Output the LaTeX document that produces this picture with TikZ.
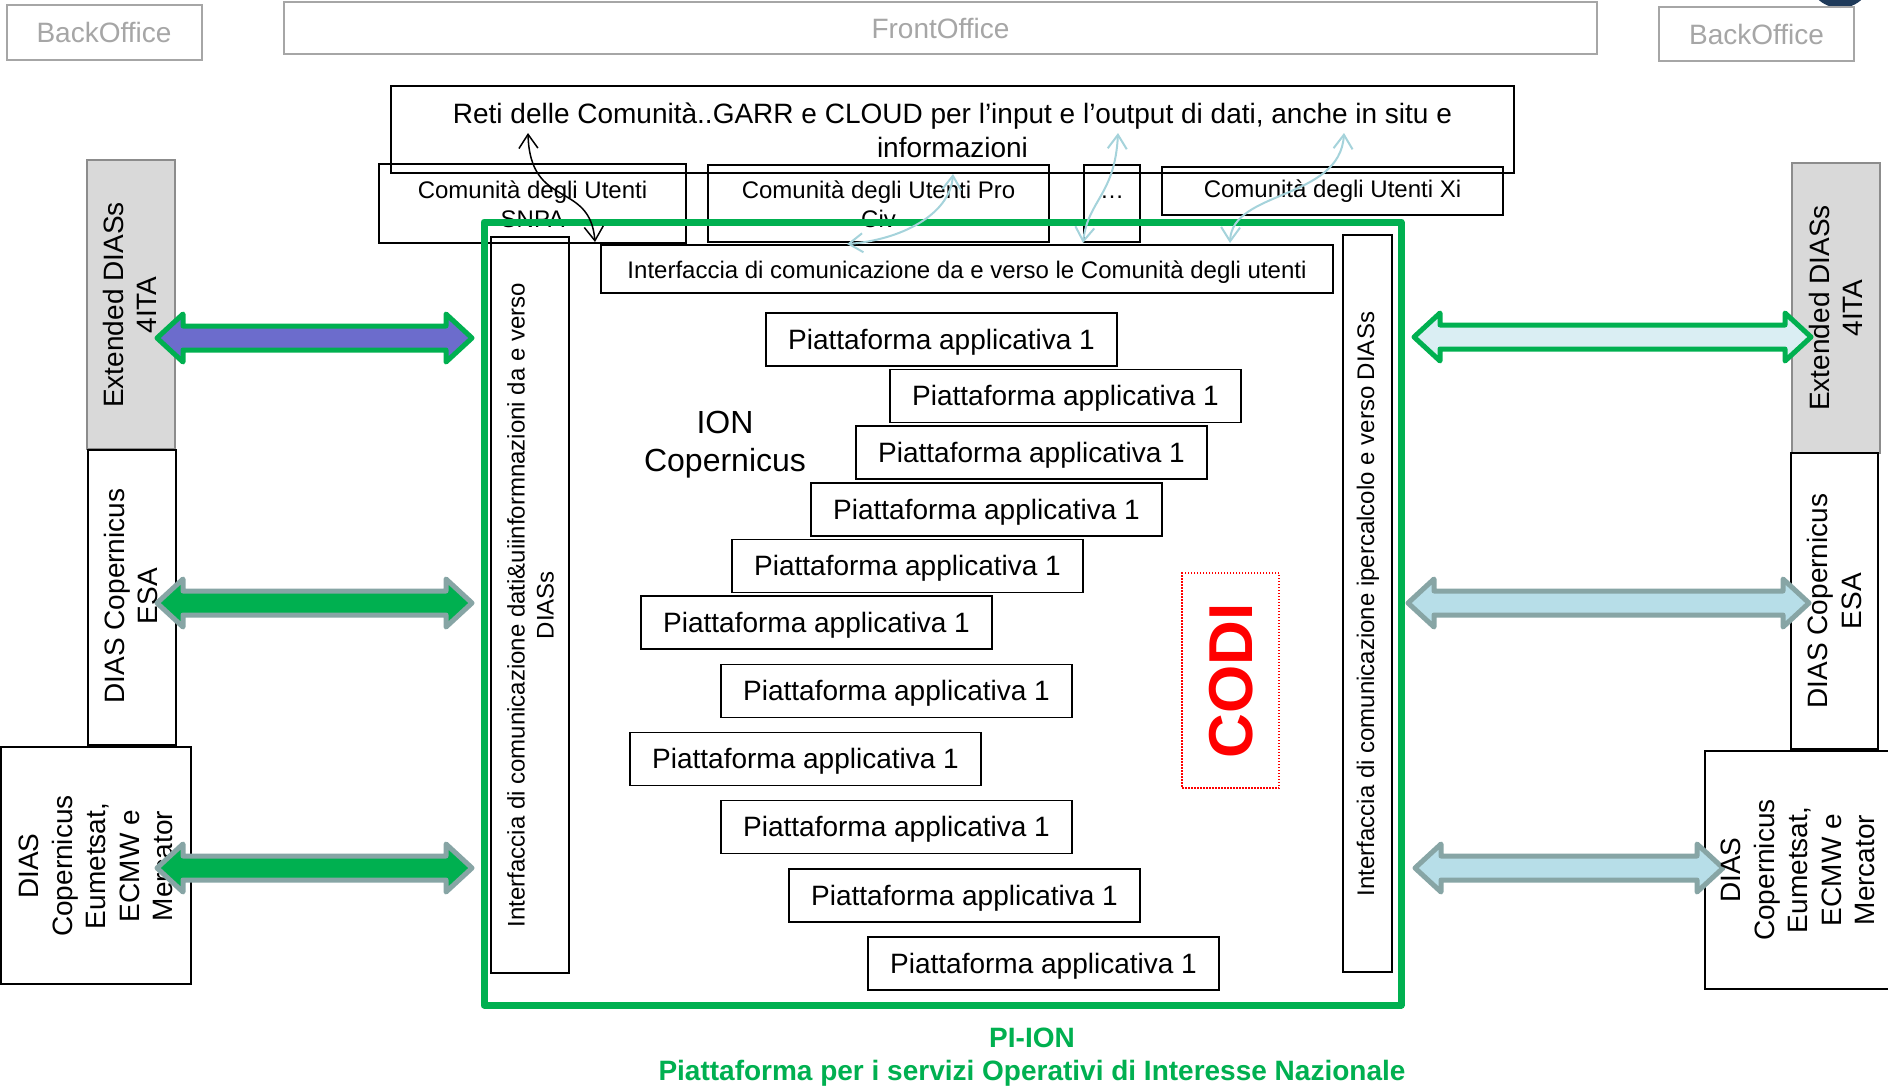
\documentclass[tikz,border=0pt]{standalone}
\usepackage{fontspec}
\setmainfont{Liberation Sans}
\usetikzlibrary{arrows.meta}
\definecolor{pgreen}{HTML}{00B050}
\definecolor{pgray}{HTML}{A6A6A6}
\definecolor{sgray}{HTML}{D9D9D9}
\definecolor{sgrayb}{HTML}{8C8C8C}
\definecolor{purp}{HTML}{6C6CCC}
\definecolor{arrgray}{HTML}{87A5A5}
\definecolor{lblue}{HTML}{DAEEF3}
\definecolor{mblue}{HTML}{B7DEE8}
\definecolor{cblue}{HTML}{A5D3DB}
\definecolor{navyb}{HTML}{1F3A5A}
\newcommand\fA{\fontsize{28}{33.6}\selectfont}
\newcommand\fB{\fontsize{24}{29}\selectfont}
\newcommand\fC{\fontsize{32}{38}\selectfont}
\newcommand\fD{\fontsize{62}{70}\selectfont\bfseries}
\newcommand\blockarrow[5]{%
  \filldraw[fill=#4,draw=#5,line width=5pt,line join=round]
   ({#1},{#3}) -- ({#1+26},{#3-24}) -- ({#1+26},{#3-12}) -- ({#2-26},{#3-12})
   -- ({#2-26},{#3-24}) -- ({#2},{#3}) -- ({#2-26},{#3+24}) -- ({#2-26},{#3+12})
   -- ({#1+26},{#3+12}) -- ({#1+26},{#3+24}) -- cycle;}
\begin{document}
\begin{tikzpicture}[x=1pt,y=-1pt,
  box/.style={draw=black,line width=1.6pt,inner sep=0pt,align=center},
  gbox/.style={draw=pgray,line width=2pt,inner sep=0pt,text=pgray,font=\fA},
  plat/.style={box,minimum width=351pt,minimum height=53pt,font=\fA,text height=23pt,text depth=4pt},
  vtxt/.style={rotate=90,align=center,inner sep=0pt},
  >={Straight Barb[length=14pt,width=19pt]},
  bluearr/.style={<->,draw=cblue,line width=2pt},
  blkarr/.style={<->,draw=black,line width=1.5pt}]
\useasboundingbox (0,0) rectangle (1888,1092);
\fill[white] (0,0) rectangle (1888,1092);
\fill[navyb] (1840,-24) circle (32);
% top bars
\node[gbox,minimum width=195pt,minimum height=55pt] (backL) at (104,32.5) {BackOffice};
\node[gbox,minimum width=1313pt,minimum height=52pt] (front) at (940.5,28) {FrontOffice};
\node[gbox,minimum width=195pt,minimum height=54pt] (backR) at (1756.5,34) {BackOffice};
% networks and communities
\node[box,minimum width=1123pt,minimum height=87pt] (reti) at (952.5,129.5) {};
\node[font=\fA,align=center,inner sep=0pt] (retitxt) at (952.5,130.5)
  {Reti delle Comunità..GARR e CLOUD per l’input e l’output di dati, anche in situ e\\informazioni};
\node[box,minimum width=307pt,minimum height=79pt] (snpa) at (532.5,203.5) {};
\node[box,minimum width=341pt,minimum height=77pt] (prociv) at (878.5,203.5) {};
\node[box,minimum width=56pt,minimum height=77pt] (dots) at (1112,203.5) {};
\node[inner sep=0pt,font=\fB,anchor=base] (dotstxt) at (1112,198) {…};
\node[box,minimum width=341pt,minimum height=48pt,font=\fB] (xi) at (1332.5,191) {Comunità degli Utenti Xi};
\begin{scope}
  \clip (370,150) rectangle (1060,227);
  \node[font=\fB,align=center,inner sep=0pt] (snpatxt) at (532.5,204) {Comunità degli Utenti\\SNPA};
  \node[font=\fB,align=center,inner sep=0pt] (civtxt) at (878.5,204) {Comunità degli Utenti Pro\\Civ};
\end{scope}
% interfaces
\node[box,minimum width=732pt,minimum height=48pt] (ifh) at (967,269) {};
\node[font=\fB,inner sep=0pt] (ifhtxt) at (967,272) {Interfaccia di comunicazione da e verso le Comunità degli utenti};
\node[box,minimum width=78pt,minimum height=736pt] (ifl) at (530,605) {};
\node[vtxt,font=\fB] (ifltxt) at (530.5,605) {Interfaccia di comunicazione dati\&uiinformnazioni da e verso\\DIASs};
\node[box,minimum width=49pt,minimum height=737pt] (ifr) at (1367.5,603.5) {};
\node[vtxt,font=\fB] (ifrtxt) at (1368,604) {Interfaccia di comunicazione ipercalcolo e verso DIASs};
% ION
\node[font=\fC,align=center,inner sep=0pt] (ion) at (725,444.5) {ION\\Copernicus};
% platforms
\node[plat] (p1) at (941.5,339.5) {Piattaforma applicativa 1};
\node[plat] (p2) at (1065.5,396) {Piattaforma applicativa 1};
\node[plat] (p3) at (1031.5,452.5) {Piattaforma applicativa 1};
\node[plat] (p4) at (986.5,509.5) {Piattaforma applicativa 1};
\node[plat] (p5) at (907.5,566) {Piattaforma applicativa 1};
\node[plat] (p6) at (816.5,622.5) {Piattaforma applicativa 1};
\node[plat] (p7) at (896.5,691) {Piattaforma applicativa 1};
\node[plat] (p8) at (805.5,759) {Piattaforma applicativa 1};
\node[plat] (p9) at (896.5,827) {Piattaforma applicativa 1};
\node[plat] (p10) at (964.5,895.5) {Piattaforma applicativa 1};
\node[plat] (p11) at (1043.5,963.5) {Piattaforma applicativa 1};
% CODI
\node[draw=red,line width=1.5pt,dash pattern=on 1.5pt off 1.5pt,minimum width=97pt,minimum height=215pt,inner sep=0pt] (codi) at (1230.5,680.5) {};
\node[vtxt,text=red,font=\fD] (coditxt) at (1231,680.5) {CODI};
% left side boxes
\node[box,fill=sgray,draw=sgrayb,minimum width=88pt,minimum height=289pt] (extL) at (131,304.5) {};
\node[vtxt,font=\fA] (extLt) at (130,305) {Extended DIASs\\4ITA};
\node[box,minimum width=88pt,minimum height=295pt] (esaL) at (132,597.5) {};
\node[vtxt,font=\fA] (esaLt) at (131,596) {DIAS Copernicus\\ESA};
\node[box,minimum width=190pt,minimum height=237pt] (eumL) at (96,865.5) {};
\node[vtxt,font=\fA] (eumLt) at (96,866) {DIAS\\Copernicus\\Eumetsat,\\ECMW e\\Mercator};
% right side boxes
\node[box,fill=sgray,draw=sgrayb,minimum width=88pt,minimum height=290pt] (extR) at (1836,308) {};
\node[box,minimum width=87pt,minimum height=296pt] (esaR) at (1834.5,601) {};
\node[box,minimum width=186pt,minimum height=238pt] (eumR) at (1798,870) {};
% green frame
\node[draw=pgreen,line width=7pt,line join=round,minimum width=917pt,minimum height=783pt,inner sep=0pt] (frame) at (942.5,613.5) {};
\node[font=\fA\bfseries,text=pgreen,align=center,inner sep=0pt] (pion) at (1032,1057)
  {PI-ION\\Piattaforma per i servizi Operativi di Interesse Nazionale};
% block arrows
\blockarrow{157}{472}{338}{purp}{pgreen}
\blockarrow{157}{472}{603}{pgreen}{arrgray}
\blockarrow{157}{472}{868}{pgreen}{arrgray}
\blockarrow{1414}{1811}{337}{lblue}{pgreen}
\blockarrow{1408}{1809}{603}{mblue}{arrgray}
\blockarrow{1415}{1723}{868}{mblue}{arrgray}
% right side labels
\node[vtxt,font=\fA] (extRt) at (1836,308) {Extended DIASs\\4ITA};
\node[vtxt,font=\fA] (esaRt) at (1834.5,601) {DIAS Copernicus\\ESA};
\node[vtxt,font=\fA] (eumRt) at (1798,870) {DIAS\\Copernicus\\Eumetsat,\\ECMW e\\Mercator};
% curved arrows
\coordinate (a1s) at (528,133);
\coordinate (a1e) at (595,242);
\draw[blkarr] (a1s) .. controls (530,210) and (590,180) .. (a1e);
\coordinate (a2s) at (847,244);
\coordinate (a2e) at (953,174);
\draw[bluearr] (a2s) .. controls (900,240) and (950,215) .. (a2e);
\coordinate (a3s) at (1083,243);
\coordinate (a3e) at (1118,133);
\draw[bluearr] (a3s) .. controls (1088,200) and (1115,195) .. (a3e);
\coordinate (a4s) at (1230,243);
\coordinate (a4e) at (1344,133);
\draw[bluearr] (a4s) .. controls (1232,190) and (1340,200) .. (a4e);
\end{tikzpicture}
\end{document}
